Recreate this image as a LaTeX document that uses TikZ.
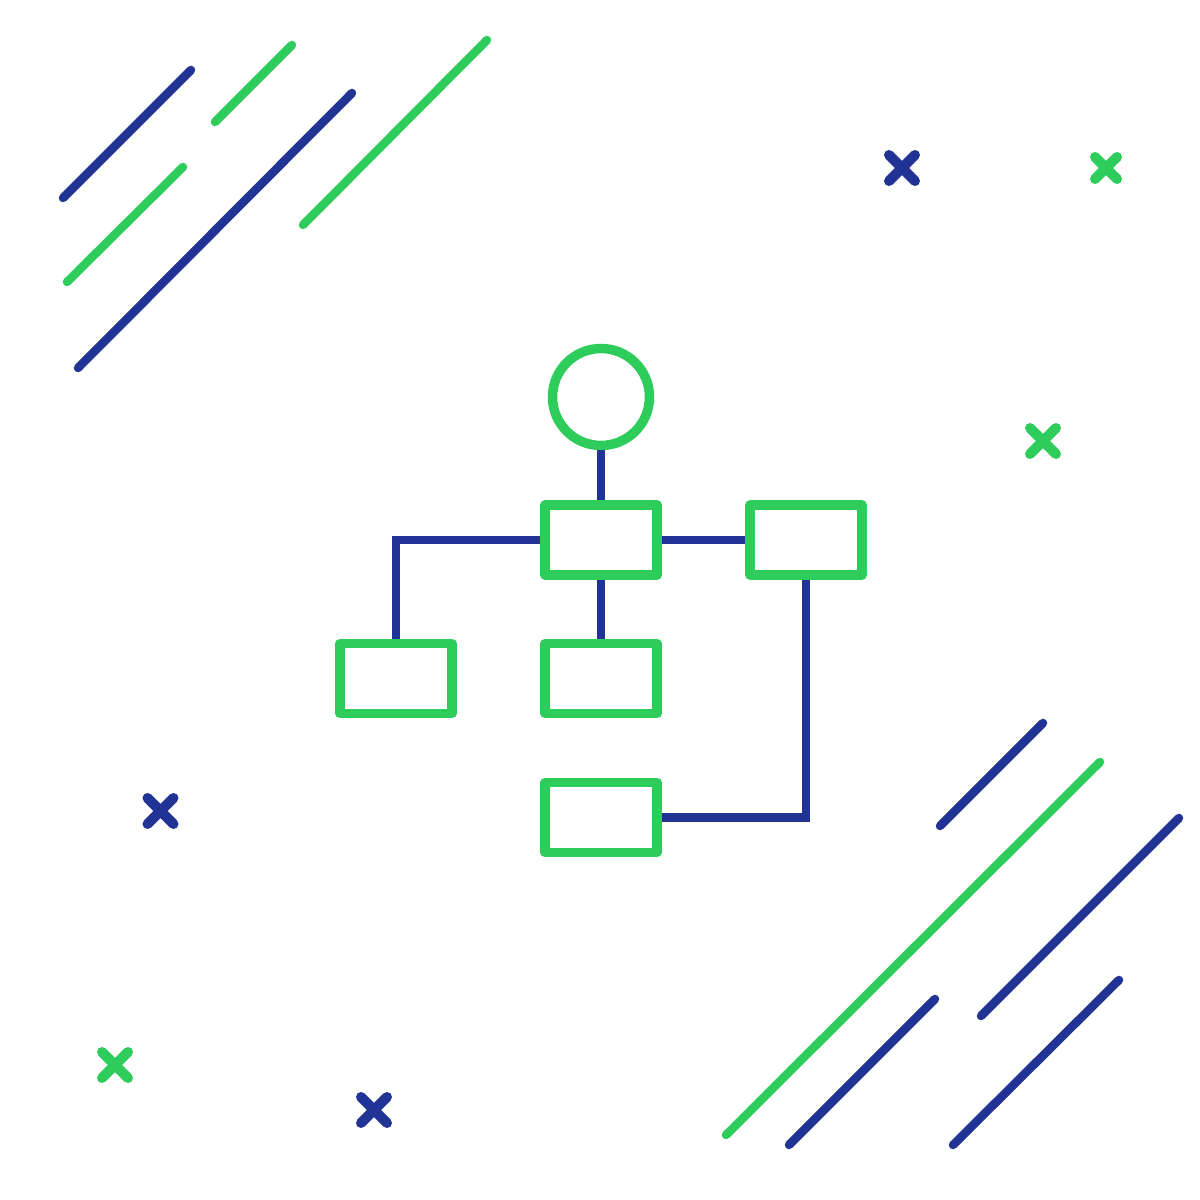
\documentclass[tikz,border=0pt]{standalone}
\usetikzlibrary{positioning}
\definecolor{navy}{RGB}{33,52,150}
\definecolor{leaf}{RGB}{46,204,90}
\tikzset{
  box/.style={draw=leaf, line width=0.095cm, line join=round, minimum width=1.12cm, minimum height=0.70cm, inner sep=0pt},
  link/.style={draw=navy, line width=0.085cm},
  blueline/.style={navy, line width=0.085cm, line cap=round},
  greenline/.style={leaf, line width=0.085cm, line cap=round}
}
\begin{document}
\begin{tikzpicture}
	\useasboundingbox (0,0) rectangle (12,12);
	
	\node[draw=leaf, line width=0.095cm, circle, minimum size=0.97cm, inner sep=0pt] at (6.01, 8.03) (start) {};
	\node[box] at (6.01, 6.60)  (top)    {};
	\node[box] at (8.06, 6.60)  (right)  {};
	\node[box] at (3.96, 5.215) (left)   {};
	\node[box] at (6.01, 5.215) (mid)    {};
	\node[box] at (6.01, 3.825) (bottom) {};
	
	% draw links
	\draw[link] (start) -- (top);
	\draw[link] (top) -| (left);
	\draw[link] (top) -- (right);
	\draw[link] (top) -- (mid);
	\draw[link] (right) |- (bottom);
	
	% strokes top left
	\draw[blueline]  (0.63, 10.02) -- (1.91, 11.30);
	\draw[greenline] (2.15, 10.78) -- (2.92, 11.55);
	\draw[greenline] (0.67, 9.18)  -- (1.83, 10.33);
	\draw[blueline]  (0.78, 8.32)  -- (3.52, 11.07);
	\draw[greenline] (3.03, 9.75)  -- (4.87, 11.60);
	
	% strokes bottom right
	\draw[blueline]  (9.40, 3.74)  -- (10.43, 4.77);
	\draw[greenline] (7.26, 0.65)  -- (11.00, 4.38);
	\draw[blueline]  (9.81, 1.84)  -- (11.79, 3.82);
	\draw[blueline]  (7.89, 0.55)  -- (9.35, 2.01);
	\draw[blueline]  (9.53, 0.55)  -- (11.19, 2.20);
	
	% crosses
	\foreach \x/\y/\r/\c in {9.02/10.32/0.13/navy, 11.06/10.32/0.11/leaf, 10.43/7.59/0.13/leaf,
	                         1.605/3.89/0.13/navy, 1.15/1.35/0.13/leaf, 3.74/0.90/0.13/navy}
	  \draw[\c, line width=0.10cm, line cap=round]
	    (\x-\r, \y-\r) -- (\x+\r, \y+\r) (\x-\r, \y+\r) -- (\x+\r, \y-\r);
	
\end{tikzpicture}
\end{document}
